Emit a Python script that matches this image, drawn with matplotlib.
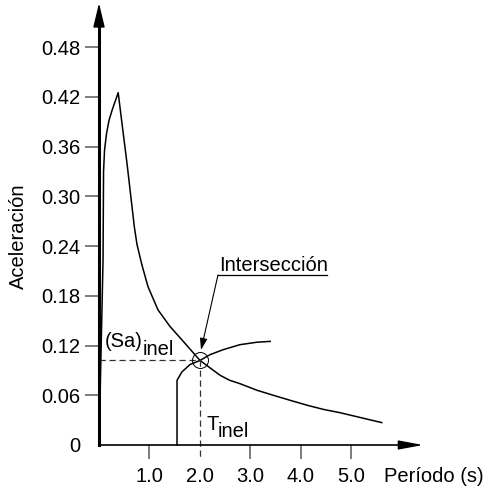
import numpy as np
import matplotlib.pyplot as plt

plt.rcParams['font.family'] = ['Liberation Sans', 'DejaVu Sans']

# espectro de demanda
demand_t = [0.0, 0.08, 0.09, 0.11, 0.15, 0.20, 0.26, 0.38, 0.455, 0.554, 0.70, 0.752,
            0.851, 0.97, 1.168, 1.406, 1.683, 2.0, 2.20, 2.40, 2.59, 2.79, 3.13, 3.45,
            3.78, 4.12, 4.44, 4.77, 5.60]
demand_sa = [0.0, 0.223, 0.33, 0.356, 0.376, 0.392, 0.404, 0.425, 0.388, 0.340, 0.263, 0.242,
             0.217, 0.191, 0.163, 0.143, 0.124, 0.102, 0.093, 0.084, 0.078, 0.074, 0.066, 0.060,
             0.054, 0.048, 0.043, 0.039, 0.027]

# curva de capacidad
capacity_t = [1.545, 1.545, 1.64, 1.80, 2.0, 2.20, 2.46, 2.79, 3.13, 3.39]
capacity_sa = [0.0, 0.078, 0.088, 0.097, 0.102, 0.109, 0.115, 0.121, 0.124, 0.125]

t_inel = 2.0
sa_inel = 0.102

y_ticks = [0, 0.06, 0.12, 0.18, 0.24, 0.30, 0.36, 0.42, 0.48]
y_labels = ['0', '0.06', '0.12', '0.18', '0.24', '0.30', '0.36', '0.42', '0.48']
x_ticks = [1, 2, 3, 4, 5]
x_labels = ['1.0', '2.0', '3.0', '4.0', '5.0']

fs = 14.5
tick_col = '#666666'

fig = plt.figure(figsize=(4.84, 4.86), dpi=100)
ax = fig.add_axes([0, 0, 1, 1])
ax.set_xlim(-1.9604, 7.6238)
ax.set_ylim(-0.04946, 0.53679)

# ejes con flechas
ax.spines['top'].set_visible(False)
ax.spines['right'].set_visible(False)
ax.spines['left'].set_position(('data', 0))
ax.spines['bottom'].set_position(('data', 0))
ax.spines['left'].set_linewidth(2.2)
ax.spines['bottom'].set_linewidth(1.2)
ax.spines['left'].set_bounds(0, 0.51)
ax.spines['bottom'].set_bounds(0, 6.1)
ax.annotate('', xy=(0, 0.533), xytext=(0, 0.505),
            arrowprops=dict(arrowstyle='-|>,head_length=15,head_width=3.6', mutation_scale=1,
                            color='black', lw=1, shrinkA=0, shrinkB=0))
ax.annotate('', xy=(6.416, 0), xytext=(6.0, 0),
            arrowprops=dict(arrowstyle='-|>,head_length=15,head_width=2.8', mutation_scale=1,
                            color='black', lw=1, shrinkA=0, shrinkB=0))

ax.set_yticks(y_ticks)
ax.set_yticklabels(y_labels)
ax.set_xticks(x_ticks)
ax.set_xticklabels(x_labels)
ax.tick_params(axis='y', direction='out', length=10, width=1.2, color=tick_col,
               labelsize=fs, pad=3.5)
ax.tick_params(axis='x', direction='out', length=10, width=1.2, color=tick_col,
               labelsize=fs, pad=5.5)
ax.yaxis.get_major_ticks()[0].tick1line.set_visible(False)
ax.xaxis.get_major_ticks()[1].tick1line.set_visible(False)

ax.set_ylabel('Aceleración', fontsize=fs, va='center')
ax.yaxis.set_label_coords(-1.6, 0.252, transform=ax.transData)
ax.set_xlabel('Período (s)', fontsize=fs, va='top')
ax.xaxis.set_label_coords(6.63, -0.026, transform=ax.transData)

# curvas
ax.plot(demand_t, demand_sa, color='black', lw=1.1)
ax.plot(capacity_t, capacity_sa, color='black', lw=1.1)

# punto de desempeño
ax.plot([0, t_inel], [sa_inel, sa_inel], color='#333333', lw=0.9, ls=(0, (5, 3)))
ax.plot([t_inel, t_inel], [sa_inel, -0.018], color='#333333', lw=0.9, ls=(0, (5, 3)))
ax.plot([t_inel], [sa_inel], marker='o', ms=11.5, mfc='none', mec='black', mew=0.7)

ax.text(0.11, 0.118, '(Sa)', fontsize=fs, va='baseline', ha='left')
ax.text(0.86, 0.1086, 'inel', fontsize=fs, va='baseline', ha='left')
ax.text(2.12, 0.018, 'T', fontsize=fs, va='baseline', ha='left')
ax.text(2.34, 0.0097, 'inel', fontsize=fs, va='baseline', ha='left')

# etiqueta de la intersección
ax.text(2.38, 0.210, 'Intersección', fontsize=fs, va='baseline', ha='left')
ax.plot([2.356, 4.515], [0.2051, 0.2051], color='black', lw=0.9)
ax.annotate('', xy=(2.02, 0.1146), xytext=(2.356, 0.2051),
            arrowprops=dict(arrowstyle='-|>,head_length=7,head_width=2.2', mutation_scale=1,
                            color='black', lw=0.8, shrinkA=0, shrinkB=0))

fig.savefig('out.png', dpi=100)
